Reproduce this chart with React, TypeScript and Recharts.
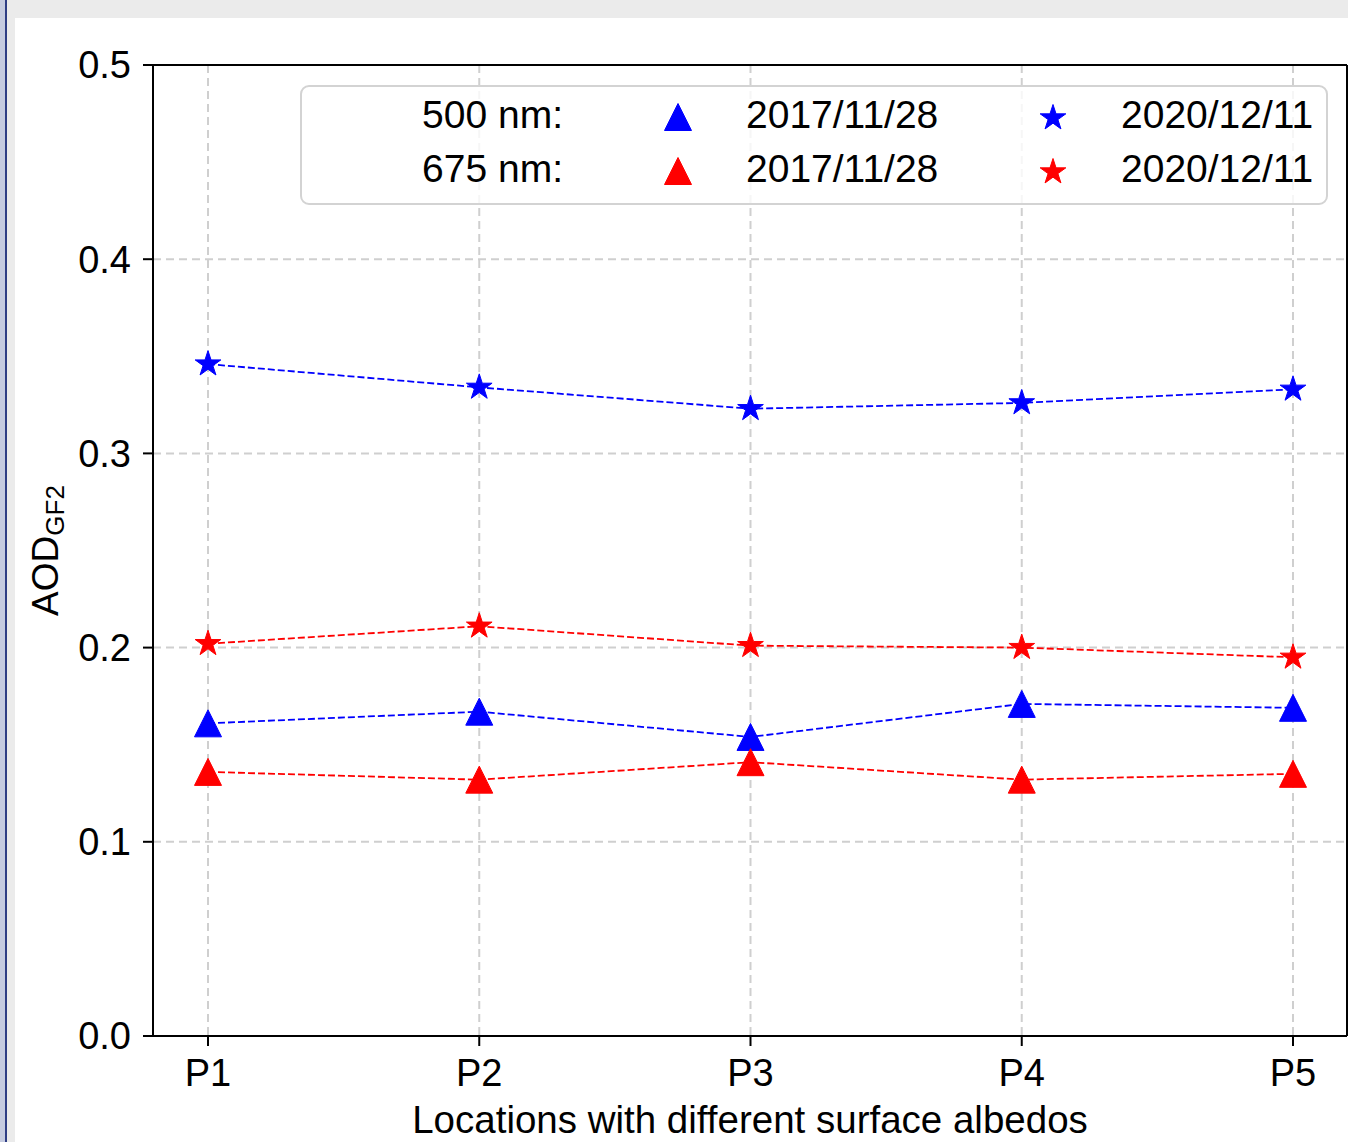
import { LineChart, Line, XAxis, YAxis, CartesianGrid, ReferenceLine, Legend } from "recharts";

const locations = ["P1", "P2", "P3", "P4", "P5"];
const aod500Tri = [0.161, 0.167, 0.154, 0.171, 0.169];
const aod500Star = [0.346, 0.334, 0.323, 0.326, 0.333];
const aod675Tri = [0.136, 0.132, 0.141, 0.132, 0.135];
const aod675Star = [0.202, 0.211, 0.201, 0.2, 0.195];
const yTicks = [0, 0.1, 0.2, 0.3, 0.4, 0.5];
const wavelengths = ["500 nm:", "675 nm:"];
const dates = ["2017/11/28", "2020/12/11"];

const BLUE = "#0000ff";
const RED = "#ff0000";
const FONT = '"Liberation Sans", Arial, Helvetica, sans-serif';

const data = locations.map((name, i) => ({
  name,
  b_tri: aod500Tri[i],
  b_star: aod500Star[i],
  r_tri: aod675Tri[i],
  r_star: aod675Star[i],
}));

const triPath = (cx: number, cy: number, s = 13.5) =>
  `M${cx},${cy - s}L${cx - s},${cy + s}L${cx + s},${cy + s}Z`;

const starPath = (cx: number, cy: number, r = 13.5) => {
  let d = "";
  for (let i = 0; i < 10; i++) {
    const rr = i % 2 === 0 ? r : r * 0.382;
    const a = ((-90 + i * 36) * Math.PI) / 180;
    d += (i === 0 ? "M" : "L") + (cx + rr * Math.cos(a)).toFixed(2) + "," + (cy + rr * Math.sin(a)).toFixed(2);
  }
  return d + "Z";
};

const markerDot = (shape: "tri" | "star", color: string) => (props: any) => {
  const { cx, cy, index, dataKey } = props;
  const d = shape === "tri" ? triPath(cx, cy) : starPath(cx, cy);
  return <path key={`${dataKey}-${index}`} d={d} fill={color} stroke={color} strokeWidth={1} />;
};

function LegendBox() {
  const colors = [BLUE, RED];
  return (
    <svg width={1028} height={120} style={{ display: "block", overflow: "visible" }}>
      <rect x={1} y={1} width={1026} height={118} rx={8} fill="#fff" fillOpacity={0.8} stroke="#d3d3d3" strokeWidth={2} />
      {wavelengths.map((w, i) => {
        const base = 43 + i * 54;
        const cy = 32 + i * 54;
        const textProps = { fontSize: 39, fontFamily: FONT, fill: "#000" };
        return (
          <g key={w}>
            <text x={263} y={base} textAnchor="end" {...textProps}>{w}</text>
            <path d={triPath(378, cy)} fill={colors[i]} stroke={colors[i]} strokeWidth={1} />
            <text x={446} y={base} {...textProps}>{dates[0]}</text>
            <path d={starPath(753, cy + 1)} fill={colors[i]} stroke={colors[i]} strokeWidth={1} />
            <text x={821} y={base} {...textProps}>{dates[1]}</text>
          </g>
        );
      })}
    </svg>
  );
}

const AodLabel = () => (
  <text
    x={58}
    y={550.5}
    transform="rotate(-90 58 550.5)"
    textAnchor="middle"
    fontSize={37}
    fontFamily={FONT}
    fill="#000"
  >
    AOD
    <tspan fontSize={26} dy={6}>GF2</tspan>
  </text>
);

const axisLine = { stroke: "#000", strokeWidth: 2 };
const tickStyle = { fill: "#000", fontSize: 38, fontFamily: FONT };

export default function App() {
  return (
    <div style={{ position: "absolute", left: 0, top: 0, width: 1348, height: 1142, background: "#fff", overflow: "hidden" }}>
      <div style={{ position: "absolute", left: 0, top: 0, width: 5, height: 1142, background: "#c5cbe0" }} />
      <div style={{ position: "absolute", left: 5, top: 0, width: 2, height: 1142, background: "#2e3d84" }} />
      <div style={{ position: "absolute", left: 7, top: 0, width: 8, height: 1142, background: "#ebebeb" }} />
      <div style={{ position: "absolute", left: 7, top: 0, width: 1341, height: 18, background: "#ebebeb" }} />
      <div style={{ position: "absolute", left: 0, top: 0 }}>
        <LineChart width={1348} height={1142} data={data} margin={{ top: 65, right: 0, bottom: 0, left: 93 }}>
          <CartesianGrid stroke="#cfcfcf" strokeWidth={2} strokeDasharray="8 5" />
          <XAxis
            dataKey="name"
            interval={0}
            padding={{ left: 55, right: 54 }}
            height={106}
            tickSize={10}
            tickMargin={13}
            tick={tickStyle}
            tickLine={axisLine}
            axisLine={axisLine}
            label={{ value: "Locations with different surface albedos", position: "insideBottom", offset: 9, fill: "#000", fontSize: 38.5, fontFamily: FONT }}
          />
          <YAxis
            domain={[0, 0.5]}
            ticks={yTicks}
            width={60}
            tickSize={10}
            tickMargin={12}
            tick={tickStyle}
            tickLine={axisLine}
            axisLine={axisLine}
            tickFormatter={(v: number) => v.toFixed(1)}
            label={<AodLabel />}
          />
          <YAxis yAxisId="right" orientation="right" domain={[0, 0.5]} width={1} tick={false} tickLine={false} axisLine={axisLine} />
          <ReferenceLine y={0.5} stroke="#000" strokeWidth={2} />
          <Legend
            layout="horizontal"
            verticalAlign="middle"
            align="center"
            wrapperStyle={{ left: 300, top: 85, width: 1028, height: 120, margin: 0, padding: 0 }}
            content={() => <LegendBox />}
          />
          <Line dataKey="b_tri" stroke={BLUE} strokeWidth={1.8} strokeDasharray="7 3" dot={markerDot("tri", BLUE)} activeDot={false} isAnimationActive={false} />
          <Line dataKey="b_star" stroke={BLUE} strokeWidth={1.8} strokeDasharray="7 3" dot={markerDot("star", BLUE)} activeDot={false} isAnimationActive={false} />
          <Line dataKey="r_tri" stroke={RED} strokeWidth={1.8} strokeDasharray="7 3" dot={markerDot("tri", RED)} activeDot={false} isAnimationActive={false} />
          <Line dataKey="r_star" stroke={RED} strokeWidth={1.8} strokeDasharray="7 3" dot={markerDot("star", RED)} activeDot={false} isAnimationActive={false} />
        </LineChart>
      </div>
    </div>
  );
}
